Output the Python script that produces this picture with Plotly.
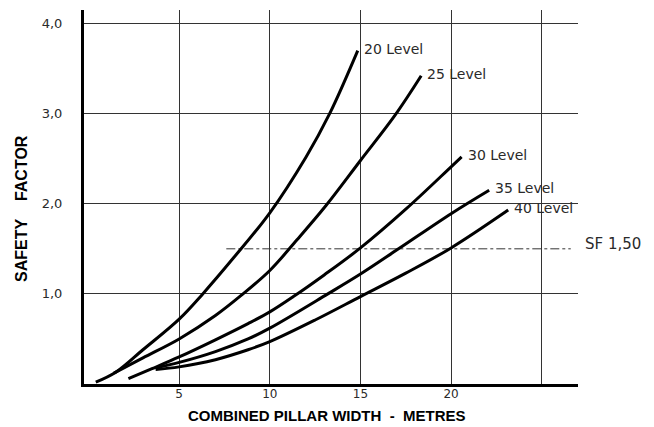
import plotly.graph_objects as go

# ---- data ----
level_names = ["20 Level", "25 Level", "30 Level", "35 Level", "40 Level"]

l20_x = [0.4, 1.5, 3.0, 5.0, 6.3, 8.0, 10.0, 12.0, 13.3, 14.85]
l20_y = [0.02, 0.13, 0.38, 0.72, 1.00, 1.40, 1.90, 2.52, 3.00, 3.70]

l25_x = [1.4, 3.0, 5.0, 7.0, 8.4, 10.0, 11.5, 13.1, 15.0, 16.9, 18.35]
l25_y = [0.12, 0.29, 0.50, 0.76, 0.98, 1.26, 1.60, 1.98, 2.48, 2.98, 3.42]

l30_x = [2.2, 3.5, 5.0, 7.0, 8.8, 10.0, 11.3, 13.0, 15.0, 17.5, 20.0, 20.58]
l30_y = [0.06, 0.17, 0.30, 0.49, 0.67, 0.80, 0.97, 1.21, 1.51, 1.94, 2.41, 2.52]

l35_x = [3.7, 5.0, 7.0, 8.8, 10.0, 13.2, 15.0, 17.1, 20.0, 22.1]
l35_y = [0.18, 0.24, 0.36, 0.50, 0.62, 1.00, 1.22, 1.50, 1.89, 2.15]

l40_x = [3.7, 5.0, 7.0, 8.8, 10.0, 12.5, 15.0, 17.5, 20.0, 23.15]
l40_y = [0.16, 0.19, 0.27, 0.38, 0.47, 0.71, 0.97, 1.23, 1.51, 1.93]

sf_level = 1.5
sf_label = "SF 1,50"
sf_x = [7.6, 26.6]

x_tickvals = [5, 10, 15, 20, 25]
x_ticktext = ["5", "10", "15", "20", ""]
y_tickvals = [1, 2, 3, 4]
y_ticktext = ["1,0", "2,0", "3,0", "4,0"]

x_title = "COMBINED PILLAR WIDTH\u00a0\u00a0-\u00a0\u00a0METRES"
y_title = "SAFETY\u00a0\u00a0\u00a0\u00a0FACTOR"

curves = [(l20_x, l20_y), (l25_x, l25_y), (l30_x, l30_y), (l35_x, l35_y), (l40_x, l40_y)]

FONT = "DejaVu Sans"
TXT = "#2a2a2a"

fig = go.Figure()

# SF reference line
fig.add_trace(go.Scatter(x=sf_x, y=[sf_level, sf_level], mode="lines",
                         line=dict(color="#333333", width=1, dash="dashdot"),
                         hoverinfo="skip", showlegend=False))

for (xs, ys), name in zip(curves, level_names):
    fig.add_trace(go.Scatter(x=xs, y=ys, mode="lines", name=name,
                             line=dict(color="black", width=3, shape="spline", smoothing=1.0),
                             showlegend=False))

annotations = []
for (xs, ys), name in zip(curves, level_names):
    annotations.append(dict(x=xs[-1], y=ys[-1], xref="x", yref="y", text=name,
                            showarrow=False, xanchor="left", yanchor="middle",
                            xshift=4, yshift=2,
                            font=dict(family=FONT, size=14, color=TXT)))

annotations.append(dict(x=sf_x[-1], y=sf_level, xref="x", yref="y", text=sf_label,
                        showarrow=False, xanchor="left", yanchor="middle",
                        xshift=12, yshift=5,
                        font=dict(family=FONT, size=15, color=TXT)))

annotations.append(dict(x=0.492, y=-0.083, xref="paper", yref="paper", text=x_title,
                        showarrow=False, xanchor="center", yanchor="middle",
                        font=dict(family="Liberation Sans", size=15, color="black", weight="bold")))
annotations.append(dict(x=-0.128, y=0.47, xref="paper", yref="paper", text=y_title,
                        showarrow=False, xanchor="center", yanchor="middle", textangle=-90,
                        font=dict(family="Liberation Sans", size=16, color="black", weight="bold")))

# the page body has an 8px default margin, so the figure is sized to fit the window
fig.update_layout(
    width=646, height=419,
    margin=dict(l=76, r=76, t=2, b=43, autoexpand=False),
    paper_bgcolor="white", plot_bgcolor="white",
    annotations=annotations,
    xaxis=dict(range=[-0.25, 27.0], tickvals=x_tickvals, ticktext=x_ticktext,
               automargin=False,
               showgrid=True, gridcolor="#333333", gridwidth=1, zeroline=False,
               showline=True, linecolor="black", linewidth=3, ticks="",
               ticklabelstandoff=-3,
               tickfont=dict(family=FONT, size=12, color=TXT)),
    yaxis=dict(range=[0, 4.15], tickvals=y_tickvals, ticktext=y_ticktext,
               automargin=False,
               showgrid=True, gridcolor="#333333", gridwidth=1, zeroline=False,
               showline=True, linecolor="black", linewidth=3, ticks="",
               ticklabelstandoff=16,
               tickfont=dict(family=FONT, size=13, color=TXT)),
)

fig.write_html("out.html")
